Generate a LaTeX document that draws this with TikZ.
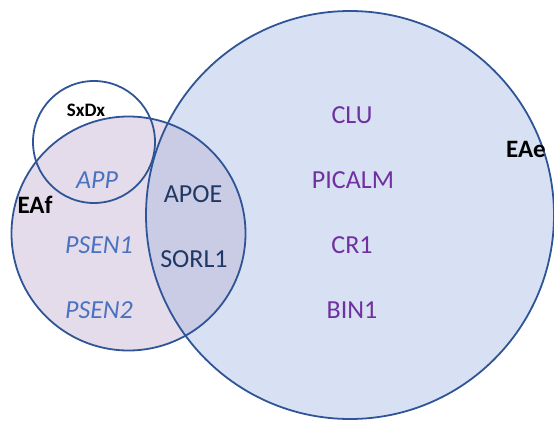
\documentclass[tikz,border=0pt]{standalone}
\usepackage{fontspec}
\setmainfont{Carlito}
\definecolor{ringblue}{HTML}{2F5597}
\definecolor{eaefill}{HTML}{D8E0F3}
\definecolor{eaffill}{HTML}{E4DCEA}
\definecolor{bothfill}{HTML}{CACBE5}
\definecolor{famblue}{HTML}{4A72C0}
\definecolor{navy}{HTML}{1F3864}
\definecolor{sporadic}{HTML}{7030A0}
\begin{document}
\begin{tikzpicture}[x=1pt,y=-1pt]
	\tikzstyle{ring} = [draw=ringblue, line width=1.8pt, circle, inner sep=0]
	\tikzstyle{gene} = [anchor=base, inner sep=0, font=\fontsize{26}{30}\selectfont]
	\tikzstyle{set} = [anchor=base, inner sep=0, font=\bfseries\fontsize{25}{30}\selectfont]
	\useasboundingbox (0,0) rectangle (554,428);

	% fills first, outlines on top
	\fill [eaefill] (350,215) circle (204pt);
	\fill [eaffill] (128.5,233.5) circle (117pt);
	\begin{scope}
		\clip (350,215) circle (204pt);
		\fill [bothfill] (128.5,233.5) circle (117pt);
	\end{scope}

	\node [ring, minimum size=408pt] (eae) at (350,215) {};
	\node [ring, minimum size=234pt] (eaf) at (128.5,233.5) {};
	\node [ring, minimum size=122pt] (sxdx) at (94,142) {};

	\node [set, font=\bfseries\fontsize{19}{22}\selectfont] (lsxdx) at (86,116) {SxDx};
	\node [set] (leaf) at (35,213) {EAf};
	\node [set] (leae) at (526,157) {EAe};

	\node [gene, famblue, font=\itshape\fontsize{26}{30}\selectfont] (app) at (97,188) {APP};
	\node [gene, famblue, font=\itshape\fontsize{26}{30}\selectfont] (psen1) at (99,253) {PSEN1};
	\node [gene, famblue, font=\itshape\fontsize{26}{30}\selectfont] (psen2) at (99,318) {PSEN2};

	\node [gene, navy] (apoe) at (193,202) {APOE};
	\node [gene, navy] (sorl1) at (194,267) {SORL1};

	\node [gene, sporadic] (clu) at (352,123) {CLU};
	\node [gene, sporadic] (picalm) at (353,188) {PICALM};
	\node [gene, sporadic] (cr1) at (352,253) {CR1};
	\node [gene, sporadic] (bin1) at (352,318) {BIN1};

\end{tikzpicture}
\end{document}
